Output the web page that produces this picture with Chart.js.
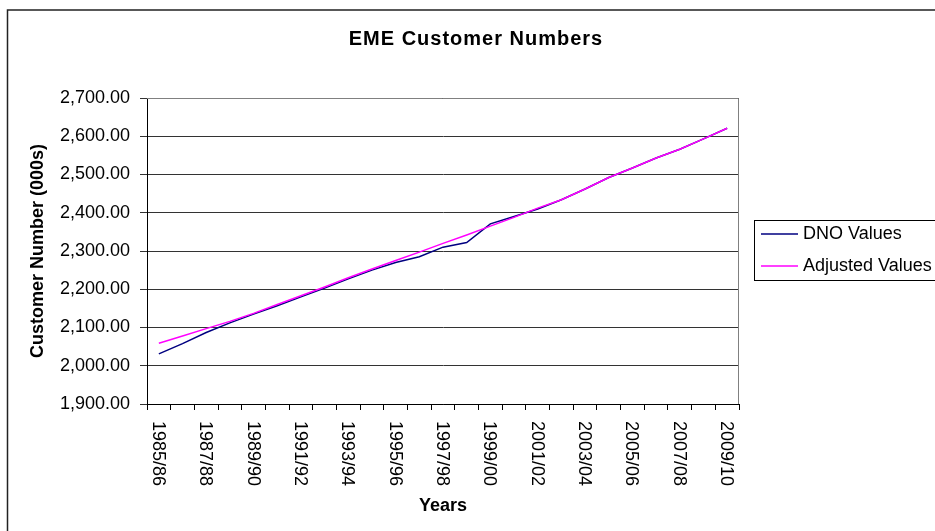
<!DOCTYPE html>
<html>
<head>
<meta charset="utf-8">
<script src="https://cdn.jsdelivr.net/npm/chart.js@4/dist/chart.umd.min.js"></script>
<style>
  html, body { margin: 0; padding: 0; background: #fff; }
  #wrap { width: 935px; height: 531px; }
</style>
</head>
<body>
<div id="wrap"><canvas id="chart" width="935" height="531"></canvas></div>
<script>
const years = [
  '1985/86', '1986/87', '1987/88', '1988/89', '1989/90', '1990/91', '1991/92',
  '1992/93', '1993/94', '1994/95', '1995/96', '1996/97', '1997/98', '1998/99',
  '1999/00', '2000/01', '2001/02', '2002/03', '2003/04', '2004/05', '2005/06',
  '2006/07', '2007/08', '2008/09', '2009/10'
];
const dnoValues = [
  2031, 2058, 2087, 2112, 2135, 2157, 2180, 2203, 2227, 2250, 2270, 2285, 2310,
  2322, 2371, 2390, 2410, 2434, 2462, 2492, 2517, 2543, 2566, 2593, 2621
];
const adjustedValues = [
  2059, 2078, 2097, 2116, 2137, 2160, 2183, 2206, 2230, 2253, 2275, 2297, 2320,
  2342, 2365, 2388, 2412, 2434, 2462, 2492, 2517, 2543, 2566, 2593, 2621
];
const yMin = 1900;
const yMax = 2700;
const yStep = 100;

const FONT = "'Liberation Sans', Arial, sans-serif";

// white background, outer frame, plot border, title, x labels, legend
const excelLook = {
  id: 'excelLook',
  beforeDraw(chart) {
    const ctx = chart.ctx;
    ctx.save();
    ctx.fillStyle = '#fff';
    ctx.fillRect(0, 0, chart.width, chart.height);
    ctx.strokeStyle = '#222';
    ctx.lineWidth = 1.5;
    ctx.beginPath();
    ctx.moveTo(935, 10);
    ctx.lineTo(7.5, 10);
    ctx.lineTo(7.5, 531);
    ctx.stroke();
    ctx.restore();
  },
  beforeDatasetsDraw(chart) {
    const {ctx, chartArea: a} = chart;
    ctx.save();
    ctx.strokeStyle = '#808080';
    ctx.lineWidth = 1;
    ctx.beginPath();
    ctx.moveTo(a.left, a.top + 0.5);
    ctx.lineTo(a.right - 0.5, a.top + 0.5);
    ctx.lineTo(a.right - 0.5, a.bottom);
    ctx.stroke();
    ctx.restore();
  },
  afterDraw(chart) {
    const ctx = chart.ctx;
    const xs = chart.scales.x;
    ctx.save();
    ctx.fillStyle = '#000';

    // title
    ctx.font = 'bold 20px ' + FONT;
    ctx.letterSpacing = '1px';
    ctx.textAlign = 'center';
    ctx.textBaseline = 'middle';
    ctx.fillText('EME Customer Numbers', 476, 39);
    ctx.letterSpacing = '0px';

    // x labels, every other year, read top to bottom
    ctx.font = '18px ' + FONT;
    ctx.textAlign = 'left';
    years.forEach((lab, i) => {
      if (i % 2) return;
      ctx.save();
      ctx.translate(xs.getPixelForValue(i) - 1, 421);
      ctx.rotate(Math.PI / 2);
      ctx.fillText(lab, 0, 0);
      ctx.restore();
    });

    // legend
    ctx.strokeStyle = '#000';
    ctx.lineWidth = 1;
    ctx.strokeRect(754.5, 220.5, 200, 60);
    chart.data.datasets.forEach((ds, i) => {
      const y = 234 + i * 32;
      ctx.strokeStyle = ds.borderColor;
      ctx.lineWidth = 1.5;
      ctx.beginPath();
      ctx.moveTo(761, y);
      ctx.lineTo(798, y);
      ctx.stroke();
      ctx.fillText(ds.label, 803, y);
    });
    ctx.restore();
  }
};

new Chart(document.getElementById('chart'), {
  type: 'line',
  data: {
    labels: years,
    datasets: [
      {
        label: 'DNO Values',
        data: dnoValues,
        borderColor: '#000080',
        borderWidth: 1.5,
        pointRadius: 0,
        tension: 0,
        fill: false,
        order: 2
      },
      {
        label: 'Adjusted Values',
        data: adjustedValues,
        borderColor: '#ff00ff',
        borderWidth: 1.5,
        pointRadius: 0,
        tension: 0,
        fill: false,
        order: 1
      }
    ]
  },
  options: {
    responsive: false,
    animation: false,
    devicePixelRatio: 1,
    layout: { padding: { top: 98, right: 196, bottom: 0, left: 0 } },
    plugins: {
      legend: { display: false },
      title: { display: false },
      tooltip: { enabled: false }
    },
    scales: {
      x: {
        type: 'category',
        offset: true,
        grid: {
          offset: true,
          drawOnChartArea: false,
          drawTicks: true,
          tickLength: 6,
          color: '#000'
        },
        border: { color: '#000', width: 1 },
        ticks: { display: false },
        title: {
          display: true,
          text: 'Years',
          color: '#000',
          font: { family: FONT, size: 18, weight: 'bold' },
          padding: { top: 0, bottom: 14 }
        },
        afterFit(scale) { scale.height = 127; }
      },
      y: {
        min: yMin,
        max: yMax,
        grid: {
          color: '#333',
          drawTicks: true,
          tickLength: 7
        },
        border: { color: '#000', width: 1 },
        ticks: {
          stepSize: yStep,
          color: '#000',
          padding: 10,
          font: { family: FONT, size: 18 },
          callback: v => v.toLocaleString('en-US', { minimumFractionDigits: 2, maximumFractionDigits: 2 })
        },
        title: {
          display: true,
          text: 'Customer Number (000s)',
          color: '#000',
          font: { family: FONT, size: 18, weight: 'bold' },
          padding: { top: 27, bottom: 0 }
        },
        afterFit(scale) { scale.width = 147; }
      }
    }
  },
  plugins: [excelLook]
});
</script>
</body>
</html>
